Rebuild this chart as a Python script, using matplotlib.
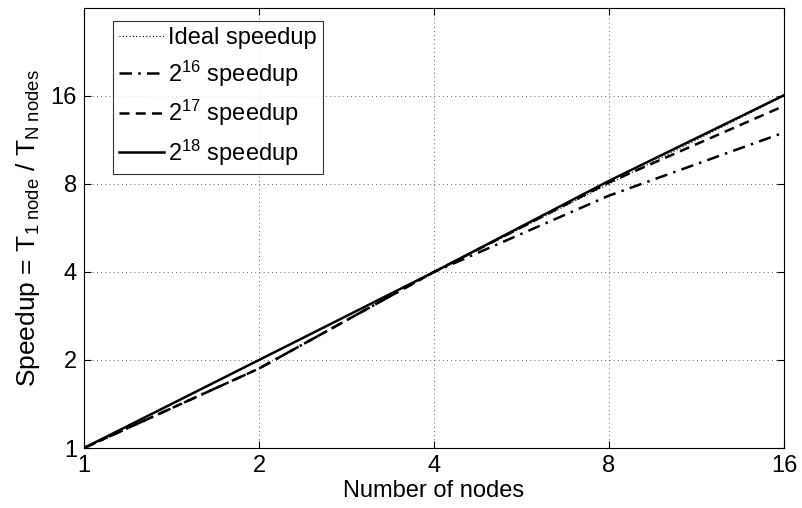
import matplotlib
matplotlib.use("Agg")
import matplotlib.pyplot as plt
from matplotlib.ticker import FixedLocator, FixedFormatter, NullLocator

plt.rcParams['font.family'] = ['Liberation Sans', 'DejaVu Sans']
plt.rcParams['mathtext.fontset'] = 'custom'
plt.rcParams['mathtext.rm'] = 'Liberation Sans'
plt.rcParams['mathtext.it'] = 'Liberation Sans'

nodes = [1, 2, 4, 8, 16]
ideal = [1, 2, 4, 8, 16]
speed16 = [1, 1.87, 4.0, 7.3, 12.0]
speed17 = [1, 1.87, 4.0, 8.1, 14.8]
speed18 = [1, 2.0, 4.0, 8.2, 16.1]
tick_vals = [1, 2, 4, 8, 16]
tick_labels = ['1', '2', '4', '8', '16']

FS = 17

fig = plt.figure(figsize=(8.02, 5.08), dpi=100)
ax = fig.add_axes([0.1047, 0.1181, 0.8729, 0.8662])

ax.plot(nodes, ideal, color='black', linestyle=(0, (1, 2)), lw=0.8, label='Ideal speedup')
ax.plot(nodes, speed16, color='black', linestyle=(0, (5, 2.5, 1, 2.5)), lw=1.8, label='$\\mathregular{2^{16}}$ speedup')
ax.plot(nodes, speed17, color='black', linestyle=(0, (4, 2.5)), lw=1.8, label='$\\mathregular{2^{17}}$ speedup')
ax.plot(nodes, speed18, color='black', linestyle='-', lw=1.8, label='$\\mathregular{2^{18}}$ speedup')

ax.set_xscale('log', base=2)
ax.set_yscale('log', base=2)
ax.set_xlim(1, 16)
ax.set_ylim(1, 32)
for axis in (ax.xaxis, ax.yaxis):
    axis.set_major_locator(FixedLocator(tick_vals))
    axis.set_major_formatter(FixedFormatter(tick_labels))
    axis.set_minor_locator(NullLocator())

ax.tick_params(direction='in', top=True, right=True, length=5, width=0.8, labelsize=FS, pad=5)
ax.grid(True, color='black', linestyle=(0, (1, 4)), lw=0.6, alpha=0.8)
for s in ax.spines.values():
    s.set_linewidth(0.8)

ax.set_xlabel('Number of nodes', fontsize=FS, labelpad=2)
ax.set_ylabel('Speedup = T$_{\\mathregular{1\\ node}}$ / T$_{\\mathregular{N\\ nodes}}$', fontsize=19, labelpad=6)

leg = ax.legend(loc='upper left', bbox_to_anchor=(0.0414, 0.9705), fontsize=FS, frameon=True,
                fancybox=False, edgecolor='black', handlelength=1.9, handletextpad=0.2,
                labelspacing=0.4, borderpad=0.25, borderaxespad=0)
leg.get_frame().set_linewidth(0.8)

fig.savefig('out.png', dpi=100)
